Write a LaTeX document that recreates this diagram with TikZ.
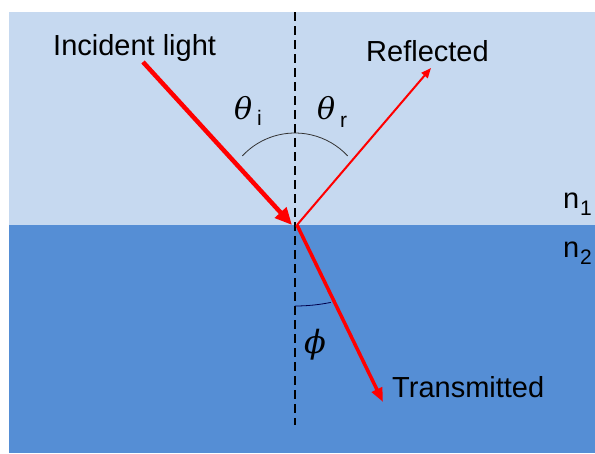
\documentclass[tikz,border=0pt]{standalone}
\usepackage{fontspec}
\setmainfont{Liberation Sans}
\newfontfamily\greekfont{DejaVu Serif}
\usetikzlibrary{arrows.meta}
\definecolor{upperblue}{HTML}{C6D9F0}
\definecolor{lowerblue}{HTML}{558ED5}
\definecolor{rayred}{HTML}{FF0000}
\tikzset{
  lbl/.style={anchor=base west, inner sep=0pt, font=\fontsize{29}{34}\selectfont},
  sub/.style={anchor=base west, inner sep=0pt, font=\fontsize{21}{24}\selectfont},
  greek/.style={anchor=base west, inner sep=0pt, font=\greekfont\itshape\fontsize{30}{34}\selectfont},
  incray/.style={draw=rayred, line width=4.5pt, -{Triangle[length=17pt,width=15pt]}},
  refray/.style={draw=rayred, line width=2pt, -{Triangle[length=10pt,width=8pt]}},
  traray/.style={draw=rayred, line width=3.5pt, -{Triangle[length=14pt,width=11pt]}},
  normalline/.style={draw=black, line width=2.6pt, dash pattern=on 9pt off 5pt},
  anglearc/.style={draw=black!80, line width=0.8pt}
}
\begin{document}
\begin{tikzpicture}[x=1pt,y=-1pt]
\useasboundingbox (0,0) rectangle (595,453);
\fill[upperblue] (9,12) rectangle (595,225);
\fill[lowerblue] (9,225) rectangle (595,453);
% points
\coordinate (O) at (295,225);
\coordinate (Oin) at (292,225);
\coordinate (Oout) at (297,225);
\coordinate (top) at (295,12);
\coordinate (bot) at (295,425);
\coordinate (inc) at (143,62);
\coordinate (ref) at (431,68);
\coordinate (tra) at (383,402);
\coordinate (thc) at (295,205);
\coordinate (phc) at (295,125);
% normal
\draw[normalline] (top) -- (bot);
% angle arcs
\draw[anglearc] (thc) ++(223:72) arc[start angle=223, end angle=317, radius=72];
\draw[anglearc, draw=black!70!blue] (phc) ++(90:181) arc[start angle=90, end angle=78.6, radius=181];
% rays
\draw[incray] (inc) -- (Oin);
\draw[refray] (Oout) -- (ref);
\draw[traray] (Oout) -- (tra);
% labels
\node[lbl] (incl) at (53,55) {Incident light};
\node[lbl] (refl) at (366,61) {Reflected};
\node[lbl] (tral) at (392,397) {Transmitted};
\node[lbl] (n1) at (563,208) {n};
\node[sub] (n1s) at (580,215) {1};
\node[lbl] (n2) at (563,257) {n};
\node[sub] (n2s) at (580,264) {2};
\node[greek] (thi) at (234,119) {θ};
\node[sub] (this) at (257,125) {i};
\node[greek] (thr) at (317,119) {θ};
\node[sub] (thrs) at (340,127) {r};
\node[greek] (ph) at (304,353) {\fontsize{32}{36}\selectfont ϕ};
\end{tikzpicture}
\end{document}
